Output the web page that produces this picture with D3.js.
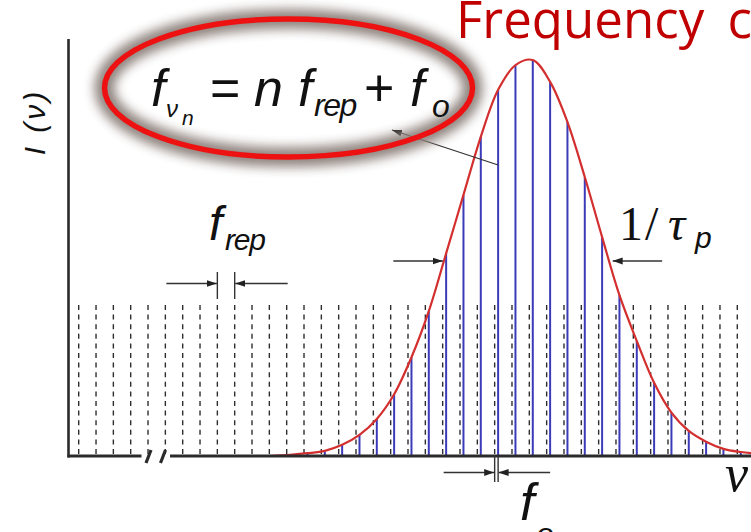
<!DOCTYPE html>
<html>
<head>
<meta charset="utf-8">
<script src="https://cdn.jsdelivr.net/npm/d3@7/dist/d3.min.js"></script>
<style>
  html, body { margin: 0; padding: 0; background: #ffffff; }
  svg { display: block; }
</style>
</head>
<body>
<div id="chart"></div>
<script>
// ---- Data -------------------------------------------------------------
// Mode numbers n of the reference grid (n * f_rep), drawn as dashed lines
const gridModes = [0, 1, 2, 3, 4, 5, 6, 7, 8, 9, 10, 11, 12, 13, 14, 15, 16, 17, 18, 19,
                   20, 21, 22, 23, 24, 25, 26, 27, 28, 29, 30, 31, 32, 33, 34, 35, 36, 37, 38];
// Offset frequency f_o, in units of f_rep
const offsetFreq = 0.2;
// Comb lines that carry power, and their intensity (% of peak)
const combModes = [12, 13, 14, 15, 16, 17, 18, 19, 20, 21, 22, 23, 24, 25,
                   26, 27, 28, 29, 30, 31, 32, 33, 34, 35, 36, 37, 38];
const combIntensity = [0.3, 0.7, 1.3, 2.8, 5.3, 9.3, 15.5, 24.8, 36.4, 50.9, 65.6, 80.2, 92.0, 98.2,
                       99.5, 94.0, 83.9, 70.1, 55.0, 40.4, 28.9, 18.4, 10.9, 6.3, 3.6, 1.8, 1.0];
// Envelope end points beyond the outermost comb lines
const envelopeTailModes = [11.0, 39.4];
const envelopeTailIntensity = [0, 0.45];
// Height of the dashed reference grid (% of peak)
const gridHeight = 39;
// Half-maximum level and the two crossing points of the envelope (mode units)
const halfMaxLevel = 49;
const halfMaxModes = [21.04, 30.78];

// ---- Layout -----------------------------------------------------------
const W = 751, H = 532;
const x = d3.scaleLinear().domain([0, 38]).range([78.7, 737.3]);
const y = d3.scaleLinear().domain([0, 100]).range([456, 58]);

const svg = d3.select("#chart").append("svg")
  .attr("width", W).attr("height", H)
  .attr("viewBox", `0 0 ${W} ${H}`);

const defs = svg.append("defs");
defs.append("filter").attr("id", "glow")
  .attr("x", "-20%").attr("y", "-40%").attr("width", "140%").attr("height", "180%")
  .append("feGaussianBlur").attr("stdDeviation", 5.5);
defs.append("marker").attr("id", "head")
  .attr("viewBox", "0 0 10 8").attr("refX", 10).attr("refY", 4)
  .attr("markerWidth", 10).attr("markerHeight", 8)
  .attr("markerUnits", "userSpaceOnUse").attr("orient", "auto")
  .append("path").attr("d", "M0,0.6 L10,4 L0,7.4 Z").attr("fill", "#222");

const ink = "#2b2b2b";

// ---- Reference grid (n * f_rep) ----------------------------------------
svg.append("g").selectAll("line").data(gridModes).join("line")
  .attr("x1", d => x(d)).attr("x2", d => x(d))
  .attr("y1", y(0) - 2).attr("y2", y(gridHeight))
  .attr("stroke", "#2e2e2e").attr("stroke-width", 1.4)
  .attr("stroke-dasharray", "5,4.6");

// ---- Comb lines (n * f_rep + f_o) --------------------------------------
const comb = combModes.map((n, i) => ({ n: n + offsetFreq, v: combIntensity[i] }));
svg.append("g").selectAll("line").data(comb).join("line")
  .attr("x1", d => x(d.n)).attr("x2", d => x(d.n))
  .attr("y1", y(0)).attr("y2", d => y(d.v))
  .attr("stroke", "#3b3bb8").attr("stroke-width", 2);

// ---- Spectral envelope -------------------------------------------------
const envelope = [{ n: envelopeTailModes[0], v: envelopeTailIntensity[0] }]
  .concat(comb)
  .concat([{ n: envelopeTailModes[1], v: envelopeTailIntensity[1] }]);
svg.append("path").datum(envelope)
  .attr("d", d3.line().x(d => x(d.n)).y(d => y(d.v)).curve(d3.curveCatmullRom.alpha(0.5)))
  .attr("fill", "none").attr("stroke", "#d32f2f").attr("stroke-width", 2.2);

// ---- Axes ----------------------------------------------------------------
const x0 = 68.5;
svg.append("line").attr("x1", x0).attr("x2", x0).attr("y1", 39).attr("y2", y(0) + 1.5)
  .attr("stroke", ink).attr("stroke-width", 2.6);
svg.append("line").attr("x1", x0 - 1).attr("x2", 141.5).attr("y1", y(0)).attr("y2", y(0))
  .attr("stroke", ink).attr("stroke-width", 3);
svg.append("line").attr("x1", 170).attr("x2", W).attr("y1", y(0)).attr("y2", y(0))
  .attr("stroke", ink).attr("stroke-width", 3);
// axis break marks
[[146, 151], [160.5, 165.5]].forEach(([a, b]) => {
  svg.append("line").attr("x1", a).attr("y1", 463).attr("x2", b).attr("y2", 450)
    .attr("stroke", ink).attr("stroke-width", 3.2);
});

// ---- Annotation helpers ----------------------------------------------------
function arrow(x1, y1, x2, y2) {
  svg.append("line").attr("x1", x1).attr("y1", y1).attr("x2", x2).attr("y2", y2)
    .attr("stroke", "#333").attr("stroke-width", 1.3).attr("marker-end", "url(#head)");
}
function vbar(xp, y1, y2) {
  svg.append("line").attr("x1", xp).attr("x2", xp).attr("y1", y1).attr("y2", y2)
    .attr("stroke", "#333").attr("stroke-width", 1.4);
}
function label(txt, xp, yp, size, opts = {}) {
  return svg.append("text").attr("x", xp).attr("y", yp)
    .attr("font-family", opts.family || "'Liberation Sans', Arial, sans-serif")
    .attr("font-style", opts.style || "italic")
    .attr("font-size", size)
    .attr("letter-spacing", opts.ls || 0)
    .attr("fill", opts.fill || "#111")
    .text(txt);
}

// f_rep spacing marker between two grid lines
const repA = x(gridModes[8]), repB = x(gridModes[9]);
vbar(repA, 272, 299); vbar(repB, 272, 299);
arrow(repA - 51, 283.5, repA - 0.5, 283.5);
arrow(repB + 53, 283.5, repB + 0.5, 283.5);

// f_o offset marker under the axis
const foA = x(gridModes[24]), foB = x(gridModes[24] + offsetFreq);
vbar(foA, y(0), 482); vbar(foB, y(0), 482);
arrow(foA - 51, 472.5, foA - 0.5, 472.5);
arrow(foB + 52, 472.5, foB + 0.5, 472.5);

// 1/tau_p width marker at half maximum
const hm = y(halfMaxLevel);
arrow(x(halfMaxModes[0]) - 50, hm, x(halfMaxModes[0]) - 0.5, hm);
arrow(x(halfMaxModes[1]) + 50, hm, x(halfMaxModes[1]) + 0.5, hm);

// pointer from a comb line to the formula
arrow(x(comb[12].n), 165, 392, 130);

// ---- Formula in the ellipse ------------------------------------------------
const ell = { cx: 288.5, cy: 88, rx: 184, ry: 69 };
svg.append("ellipse").attr("cx", ell.cx).attr("cy", ell.cy).attr("rx", ell.rx).attr("ry", ell.ry)
  .attr("fill", "none").attr("stroke", "#8a7e78").attr("stroke-width", 20)
  .attr("opacity", 0.95).attr("filter", "url(#glow)");
svg.append("ellipse").attr("cx", ell.cx).attr("cy", ell.cy).attr("rx", ell.rx).attr("ry", ell.ry)
  .attr("fill", "none").attr("stroke", "#ee1111").attr("stroke-width", 5.5);

label("f", 151, 106, 52);
label("\u03BD", 166, 117, 24);
label("n", 182, 125, 21);
label("=", 210, 106, 52, { style: "normal" });
label("n", 254, 106, 52);
label("f", 298, 106, 52);
label("rep", 314, 116, 32, { ls: -1.5 });
label("+", 364, 106, 52, { style: "normal" });
label("f", 410, 106, 52);
label("o", 432, 117, 32);

// ---- Other labels ------------------------------------------------------------
svg.append("text").attr("x", 456).attr("y", 38)
  .attr("font-family", "'Open Sans', Lato, sans-serif")
  .attr("font-size", 51).attr("word-spacing", 10).attr("fill", "#c00000")
  .text("Frequency comb");

label("f", 209, 240, 48);
label("rep", 225, 250, 30, { ls: -1.2 });

const serif = "'Liberation Serif', 'Times New Roman', serif";
label("1", 619, 240, 48, { style: "normal", family: serif });
label("/", 645, 240, 48, { style: "normal", family: serif });
label("\u03C4", 668, 240, 48, { family: serif });
label("p", 695, 248, 30);

label("\u03BD", 725, 491, 52, { family: serif });

label("f", 520, 520, 52);
label("o", 536, 545, 32);

svg.append("text")
  .attr("transform", "translate(45,122) rotate(-90)")
  .attr("text-anchor", "middle")
  .attr("font-family", "'Liberation Sans', Arial, sans-serif")
  .attr("font-style", "italic").attr("font-size", 30).attr("letter-spacing", 3)
  .attr("fill", "#111")
  .text("I (\u03BD)");
</script>
</body>
</html>
